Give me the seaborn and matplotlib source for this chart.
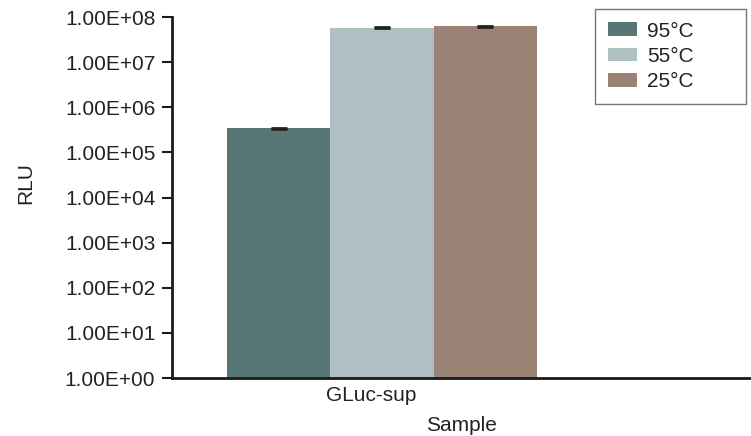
import pandas as pd
import numpy as np
import matplotlib.pyplot as plt
import seaborn as sns
from matplotlib.ticker import FuncFormatter, FixedLocator
from matplotlib.transforms import ScaledTranslation

# ข้อมูลที่อ่านจากกราฟ
samples = ['GLuc-sup', 'GLuc-sup', 'GLuc-sup']
temps = ['95°C', '55°C', '25°C']
rlu = [3.4e5, 5.8e7, 6.3e7]
rlu_err = [1.0e4, 1.5e6, 1.5e6]
colors = ['#587675', '#aec0c2', '#9a8275']

df = pd.DataFrame({'Sample': samples, 'Temp': temps, 'RLU': rlu})

sns.set_style("white")
plt.rcParams['font.family'] = ['Liberation Sans', 'DejaVu Sans']

fig = plt.figure(figsize=(7.51, 4.36), dpi=100)
ax = fig.add_axes([0.229, 0.133, 0.771, 0.828])

sns.barplot(data=df, x='Sample', y='RLU', hue='Temp', palette=colors,
            hue_order=temps, width=0.8, linewidth=0, saturation=1,
            errorbar=None, ax=ax)

# error bars (เฉพาะ cap)
bars = [p for p in ax.patches if p.get_width() > 0][:3]
xs = [p.get_x() + p.get_width() / 2 for p in bars]
ax.errorbar(xs, rlu, yerr=rlu_err, fmt='none', ecolor='#222222',
            elinewidth=1, capsize=6, capthick=2)

ax.set_yscale('log')
ax.set_ylim(1, 1e8)
ax.yaxis.set_major_locator(FixedLocator([10.0 ** k for k in range(9)]))
ax.yaxis.set_minor_locator(FixedLocator([]))
ax.yaxis.set_major_formatter(FuncFormatter(lambda v, p: f"{v:.2E}"))
ax.set_xlim(-0.542, 0.952)

for s in ['top', 'right']:
    ax.spines[s].set_visible(False)
for s in ['left', 'bottom']:
    ax.spines[s].set_color('#1a1a1a')
    ax.spines[s].set_linewidth(2)

ax.tick_params(axis='y', which='major', left=True, length=7, width=1.5,
               color='#1a1a1a', labelsize=15, labelcolor='#222222', pad=5)
ax.tick_params(axis='x', bottom=False, labelsize=15, labelcolor='#222222', pad=2)

# ป้ายหมวดหมู่เลื่อนซ้ายเล็กน้อยเหมือนต้นฉบับ
for lab in ax.get_xticklabels():
    lab.set_transform(lab.get_transform() +
                      ScaledTranslation(-0.11, 0, fig.dpi_scale_trans))

ax.set_xlabel('Sample', fontsize=15, color='#222222', labelpad=8)
ax.set_ylabel('RLU', fontsize=15, color='#222222')
ax.yaxis.set_label_coords(-0.237, 0.54)

leg = ax.legend(loc='upper left', bbox_to_anchor=(0.7306, 0.753, 0.2608, 0.269),
                mode='expand', fontsize=15,
                frameon=True, fancybox=False, edgecolor='#555555',
                handlelength=1.4, handleheight=0.65, handletextpad=0.5,
                borderpad=0.6, labelspacing=0.3, borderaxespad=0)
leg.get_frame().set_linewidth(1.0)
for t in leg.get_texts():
    t.set_color('#222222')

fig.savefig('out.png', dpi=100)
